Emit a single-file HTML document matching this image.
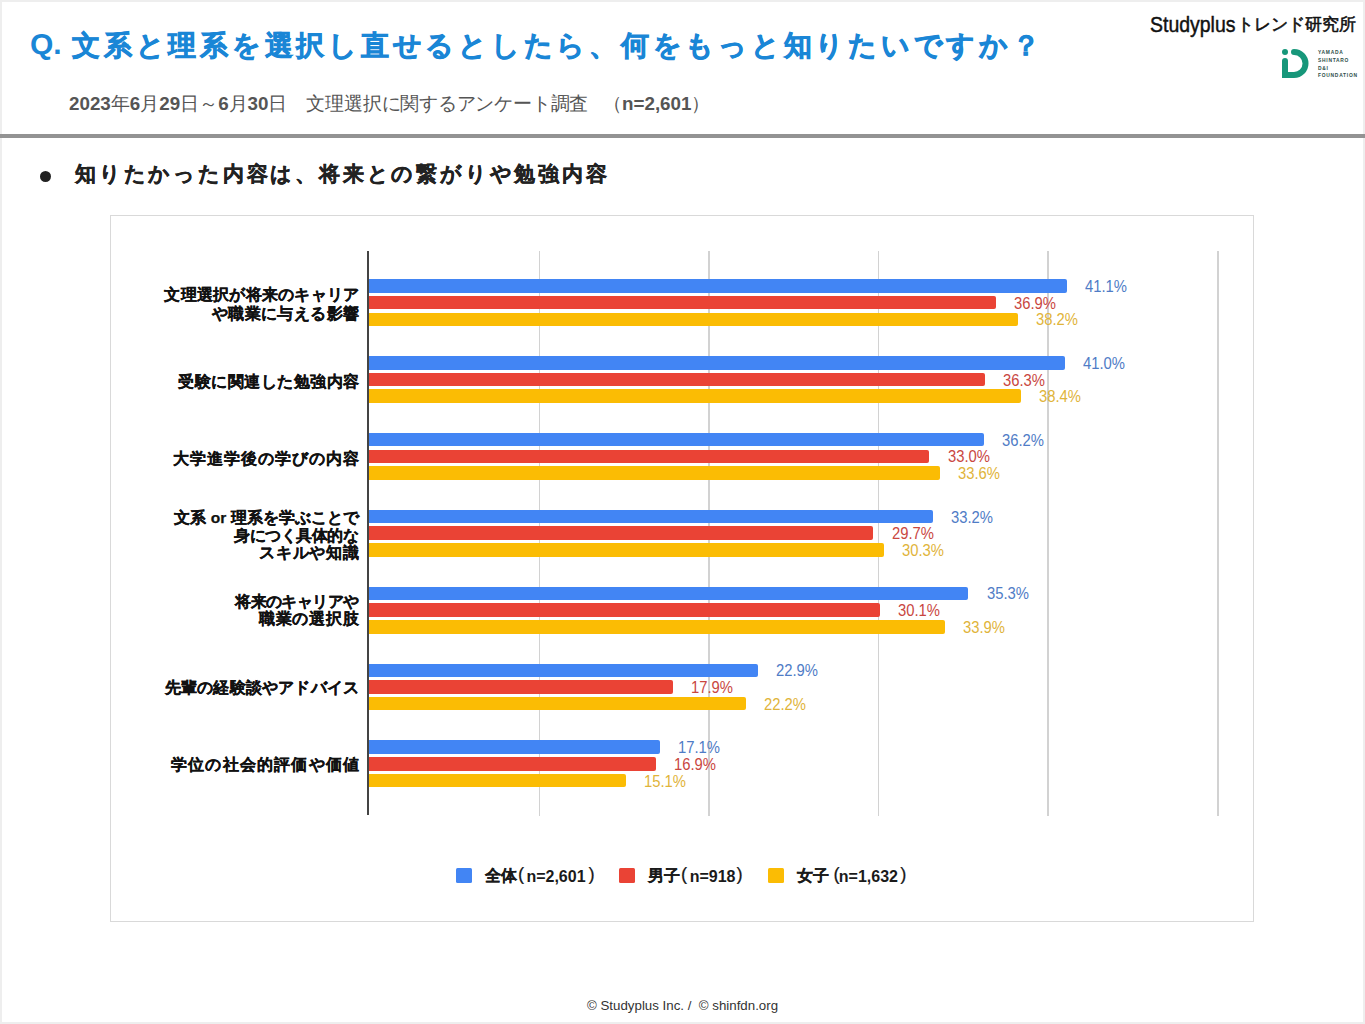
<!DOCTYPE html>
<html><head><meta charset="utf-8">
<style>
html,body{margin:0;padding:0;}
body{width:1365px;height:1024px;position:relative;overflow:hidden;background:#fff;font-family:"Liberation Sans",sans-serif;}
div,span{white-space:nowrap;}
.frame{position:absolute;left:0;top:0;width:1365px;height:1024px;box-sizing:border-box;border:2px solid #eeeeee;}
.q{position:absolute;left:30px;top:24px;font-size:30px;font-weight:bold;color:#1a86d6;line-height:40px;}
.title{position:absolute;left:72px;top:26px;font-size:28px;font-weight:bold;color:#1a86d6;letter-spacing:3.75px;line-height:40px;-webkit-text-stroke:0.7px #1a86d6;}
.sub{position:absolute;left:69px;top:93px;font-size:18.8px;color:#555;line-height:22px;}
.sub b,.sub2 b{font-weight:bold;}
.sub2{position:absolute;left:603px;top:93px;font-size:18.8px;color:#555;line-height:22px;}
.hr{position:absolute;left:0;top:134px;width:1365px;height:4px;background:#939393;}
.dot{position:absolute;left:40px;top:171px;width:11px;height:11px;border-radius:50%;background:#222;}
.bullet{position:absolute;left:75px;top:160px;font-size:21px;font-weight:bold;color:#222;letter-spacing:2.8px;line-height:28px;-webkit-text-stroke:0.35px #222;}
.brand1{position:absolute;left:1150px;top:11.5px;font-size:22.5px;color:#111;line-height:26px;-webkit-text-stroke:0.45px #111;transform:scaleX(0.865);transform-origin:0 0;}
.brand2{position:absolute;left:1237px;top:11px;font-size:17.2px;color:#111;line-height:26px;-webkit-text-stroke:0.55px #111;}
.logo{position:absolute;left:1318px;font-size:4.9px;font-weight:bold;color:#2c4d47;letter-spacing:0.75px;line-height:6px;}
.chartbox{position:absolute;left:110px;top:215px;width:1144px;height:707px;box-sizing:border-box;border:1px solid #d9d9d9;}
.axis{position:absolute;left:367.3px;top:251.2px;width:1.5px;height:564.1px;background:#444;}
.grid{position:absolute;top:251.3px;width:1.6px;height:564.3px;background:#d2d2d2;}
.bar{position:absolute;height:13.6px;border-radius:0 2px 2px 0;}
.val{position:absolute;font-size:15.6px;line-height:18px;margin-top:-8px;transform:scaleX(0.95);transform-origin:0 0;}
.cat{position:absolute;font-size:15.5px;color:#111;line-height:20px;font-weight:bold;-webkit-text-stroke:0.25px #111;}
.lj{position:absolute;top:865.5px;font-size:15.6px;font-weight:bold;color:#1a1a1a;line-height:20px;-webkit-text-stroke:0.2px #1a1a1a;}
.lp{position:absolute;top:863.5px;font-size:18.5px;color:#1a1a1a;line-height:20px;-webkit-text-stroke:0.2px #1a1a1a;}
.ln{position:absolute;top:866.5px;font-size:16px;font-weight:bold;color:#1a1a1a;line-height:20px;}
.sw{position:absolute;width:15.8px;height:15.2px;top:868.2px;border-radius:1.5px;}
.foot{position:absolute;left:587px;top:997.5px;font-size:13.3px;color:#333;line-height:16px;}
</style></head><body>
<div class="frame"></div>
<div class="q">Q.</div>
<div class="title">文系と理系を選択し直せるとしたら、何をもっと知りたいですか？</div>
<div class="sub"><b>2023</b>年<b>6</b>月<b>29</b>日～<b>6</b>月<b>30</b>日　<span style="letter-spacing:-0.22px">文理選択に関するアンケート調査</span></div><div class="sub2">（<b>n=2,601</b>）</div>
<div class="hr"></div>
<div class="dot"></div>
<div class="bullet">知りたかった内容は、将来との繋がりや勉強内容</div>
<div class="brand1">Studyplus</div><div class="brand2">トレンド研究所</div>
<svg style="position:absolute;left:1282px;top:49px" width="28" height="30" viewBox="0 0 28 30">
<circle cx="3" cy="3" r="3" fill="#17977a"/>
<path d="M0 12 A3 3 0 0 1 6 12 V29 H0 Z" fill="#17977a"/>
<path d="M12 3 A11.5 11.5 0 0 1 12 26 H3" fill="none" stroke="#17977a" stroke-width="6" stroke-linecap="round"/>
<rect x="0" y="23" width="12" height="6" fill="#17977a"/>
</svg>
<div class="logo" style="top:50.3px">YAMADA</div>
<div class="logo" style="top:57.9px">SHINTARO</div>
<div class="logo" style="top:65.5px">D&amp;I</div>
<div class="logo" style="top:73.1px">FOUNDATION</div>
<div class="chartbox"></div>
<div class="grid" style="left:538.6px"></div>
<div class="grid" style="left:708.2px"></div>
<div class="grid" style="left:877.8px"></div>
<div class="grid" style="left:1047.4px"></div>
<div class="grid" style="left:1217.0px"></div>
<div class="bar" style="top:279.1px;left:368.1px;width:698.8px;background:#4285f4"></div>
<div class="val" style="top:285.9px;left:1084.9px;color:#4f7cc6">41.1%</div>
<div class="bar" style="top:295.8px;left:368.1px;width:627.5px;background:#ea4335"></div>
<div class="val" style="top:302.6px;left:1013.6px;color:#c9473f">36.9%</div>
<div class="bar" style="top:312.5px;left:368.1px;width:649.6px;background:#fbbc04"></div>
<div class="val" style="top:319.3px;left:1035.7px;color:#dfb43a">38.2%</div>
<div class="bar" style="top:356.0px;left:368.1px;width:697.1px;background:#4285f4"></div>
<div class="val" style="top:362.8px;left:1083.2px;color:#4f7cc6">41.0%</div>
<div class="bar" style="top:372.7px;left:368.1px;width:617.3px;background:#ea4335"></div>
<div class="val" style="top:379.5px;left:1003.4px;color:#c9473f">36.3%</div>
<div class="bar" style="top:389.4px;left:368.1px;width:653.0px;background:#fbbc04"></div>
<div class="val" style="top:396.2px;left:1039.1px;color:#dfb43a">38.4%</div>
<div class="bar" style="top:432.8px;left:368.1px;width:615.7px;background:#4285f4"></div>
<div class="val" style="top:439.6px;left:1001.8px;color:#4f7cc6">36.2%</div>
<div class="bar" style="top:449.5px;left:368.1px;width:561.4px;background:#ea4335"></div>
<div class="val" style="top:456.3px;left:947.5px;color:#c9473f">33.0%</div>
<div class="bar" style="top:466.2px;left:368.1px;width:571.6px;background:#fbbc04"></div>
<div class="val" style="top:473.0px;left:957.7px;color:#dfb43a">33.6%</div>
<div class="bar" style="top:509.7px;left:368.1px;width:564.8px;background:#4285f4"></div>
<div class="val" style="top:516.5px;left:950.9px;color:#4f7cc6">33.2%</div>
<div class="bar" style="top:526.4px;left:368.1px;width:505.4px;background:#ea4335"></div>
<div class="val" style="top:533.2px;left:891.5px;color:#c9473f">29.7%</div>
<div class="bar" style="top:543.1px;left:368.1px;width:515.6px;background:#fbbc04"></div>
<div class="val" style="top:549.9px;left:901.7px;color:#dfb43a">30.3%</div>
<div class="bar" style="top:586.6px;left:368.1px;width:600.4px;background:#4285f4"></div>
<div class="val" style="top:593.4px;left:986.5px;color:#4f7cc6">35.3%</div>
<div class="bar" style="top:603.3px;left:368.1px;width:512.2px;background:#ea4335"></div>
<div class="val" style="top:610.1px;left:898.3px;color:#c9473f">30.1%</div>
<div class="bar" style="top:620.0px;left:368.1px;width:576.6px;background:#fbbc04"></div>
<div class="val" style="top:626.8px;left:962.7px;color:#dfb43a">33.9%</div>
<div class="bar" style="top:663.5px;left:368.1px;width:390.1px;background:#4285f4"></div>
<div class="val" style="top:670.2px;left:776.2px;color:#4f7cc6">22.9%</div>
<div class="bar" style="top:680.2px;left:368.1px;width:305.3px;background:#ea4335"></div>
<div class="val" style="top:687.0px;left:691.4px;color:#c9473f">17.9%</div>
<div class="bar" style="top:696.9px;left:368.1px;width:378.2px;background:#fbbc04"></div>
<div class="val" style="top:703.6px;left:764.3px;color:#dfb43a">22.2%</div>
<div class="bar" style="top:740.3px;left:368.1px;width:291.7px;background:#4285f4"></div>
<div class="val" style="top:747.1px;left:677.8px;color:#4f7cc6">17.1%</div>
<div class="bar" style="top:757.0px;left:368.1px;width:288.3px;background:#ea4335"></div>
<div class="val" style="top:763.8px;left:674.4px;color:#c9473f">16.9%</div>
<div class="bar" style="top:773.7px;left:368.1px;width:257.8px;background:#fbbc04"></div>
<div class="val" style="top:780.5px;left:643.9px;color:#dfb43a">15.1%</div>
<div class="cat" id="cat0" style="top:285.00px;letter-spacing:0.24px;right:1005.76px">文理選択が将来のキャリア</div>
<div class="cat" id="cat1" style="top:304.00px;letter-spacing:0.38px;right:1005.62px">や職業に与える影響</div>
<div class="cat" id="cat2" style="top:371.50px;letter-spacing:0.50px;right:1005.50px">受験に関連した勉強内容</div>
<div class="cat" id="cat3" style="top:449.00px;letter-spacing:0.96px;right:1005.04px">大学進学後の学びの内容</div>
<div class="cat" id="cat4" style="top:507.50px;letter-spacing:0.05px;right:1005.95px">文系 or 理系を学ぶことで</div>
<div class="cat" id="cat5" style="top:526.00px;letter-spacing:-0.46px;right:1006.46px">身につく具体的な</div>
<div class="cat" id="cat6" style="top:542.50px;letter-spacing:0.80px;right:1005.20px">スキルや知識</div>
<div class="cat" id="cat7" style="top:592.00px;letter-spacing:-0.60px;right:1006.60px">将来のキャリアや</div>
<div class="cat" id="cat8" style="top:608.50px;letter-spacing:0.84px;right:1005.16px">職業の選択肢</div>
<div class="cat" id="cat9" style="top:677.50px;letter-spacing:0.20px;right:1005.80px">先輩の経験談やアドバイス</div>
<div class="cat" id="cat10" style="top:755.00px;letter-spacing:1.20px;right:1004.80px">学位の社会的評価や価値</div>
<div class="axis"></div>
<div class="sw" style="left:456.2px;background:#4285f4"></div>
<div class="lj" style="left:485px">全体</div><div class="lp" style="left:518px">(</div><div class="ln" style="left:526.4px">n=2,601</div><div class="lp" style="left:588.6px">)</div>
<div class="sw" style="left:618.8px;background:#ea4335"></div>
<div class="lj" style="left:648px">男子</div><div class="lp" style="left:681px">(</div><div class="ln" style="left:689.7px">n=918</div><div class="lp" style="left:736.5px">)</div>
<div class="sw" style="left:767.9px;background:#fbbc04"></div>
<div class="lj" style="left:797px">女子</div><div class="lp" style="left:833.6px">(</div><div class="ln" style="left:838.8px">n=1,632</div><div class="lp" style="left:900.3px">)</div>
<div class="foot">© Studyplus Inc. /&nbsp; © shinfdn.org</div>
</body></html>
